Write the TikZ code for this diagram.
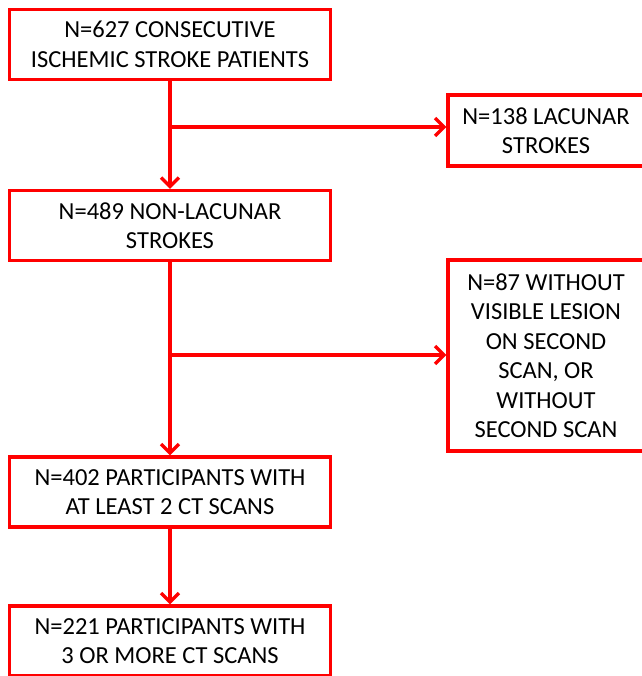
\documentclass[tikz,border=0pt]{standalone}
\usepackage{fontspec}
\setmainfont{Carlito}
\usetikzlibrary{arrows.meta}
\definecolor{boxred}{RGB}{255,0,0}
\tikzset{
  box/.style={draw=boxred, line width=3.3pt, fill=white, align=center, inner sep=0pt,
    font=\fontsize{24.5}{29.5}\selectfont, text=black},
  mainbox/.style={box, minimum width=321pt, minimum height=70pt},
  sidebox/.style={box, minimum width=196pt},
  arr/.style={draw=boxred, line width=3.3pt, -{Straight Barb[length=9pt,width=18pt,line width=3.3pt]}}
}
\begin{document}
\begin{tikzpicture}[x=1pt,y=-1pt]
\useasboundingbox (0,0) rectangle (641,676);
\node[mainbox] (b1) at (170,44.5) {N=627 CONSECUTIVE\\ISCHEMIC STROKE PATIENTS};
\node[sidebox, minimum height=71pt] (b2) at (546,130.5) {N=138 LACUNAR\\STROKES};
\node[mainbox] (b3) at (170,225.5) {N=489 NON-LACUNAR\\STROKES};
\node[sidebox, minimum height=191pt] (b4) at (546,355.5) {N=87 WITHOUT\\VISIBLE LESION\\ON SECOND\\SCAN, OR\\WITHOUT\\SECOND SCAN};
\node[mainbox] (b5) at (170,492) {N=402 PARTICIPANTS WITH\\AT LEAST 2 CT SCANS};
\node[mainbox] (b6) at (170,641) {N=221 PARTICIPANTS WITH\\3 OR MORE CT SCANS};
\coordinate (j1) at (170,127);
\coordinate (j2) at (170,355);
\draw[arr] (b1) -- (b3);
\draw[arr] (j1) -- (j1 -| b2.west);
\draw[arr] (b3) -- (b5);
\draw[arr] (j2) -- (j2 -| b4.west);
\draw[arr] (b5) -- (b6);
\end{tikzpicture}
\end{document}
